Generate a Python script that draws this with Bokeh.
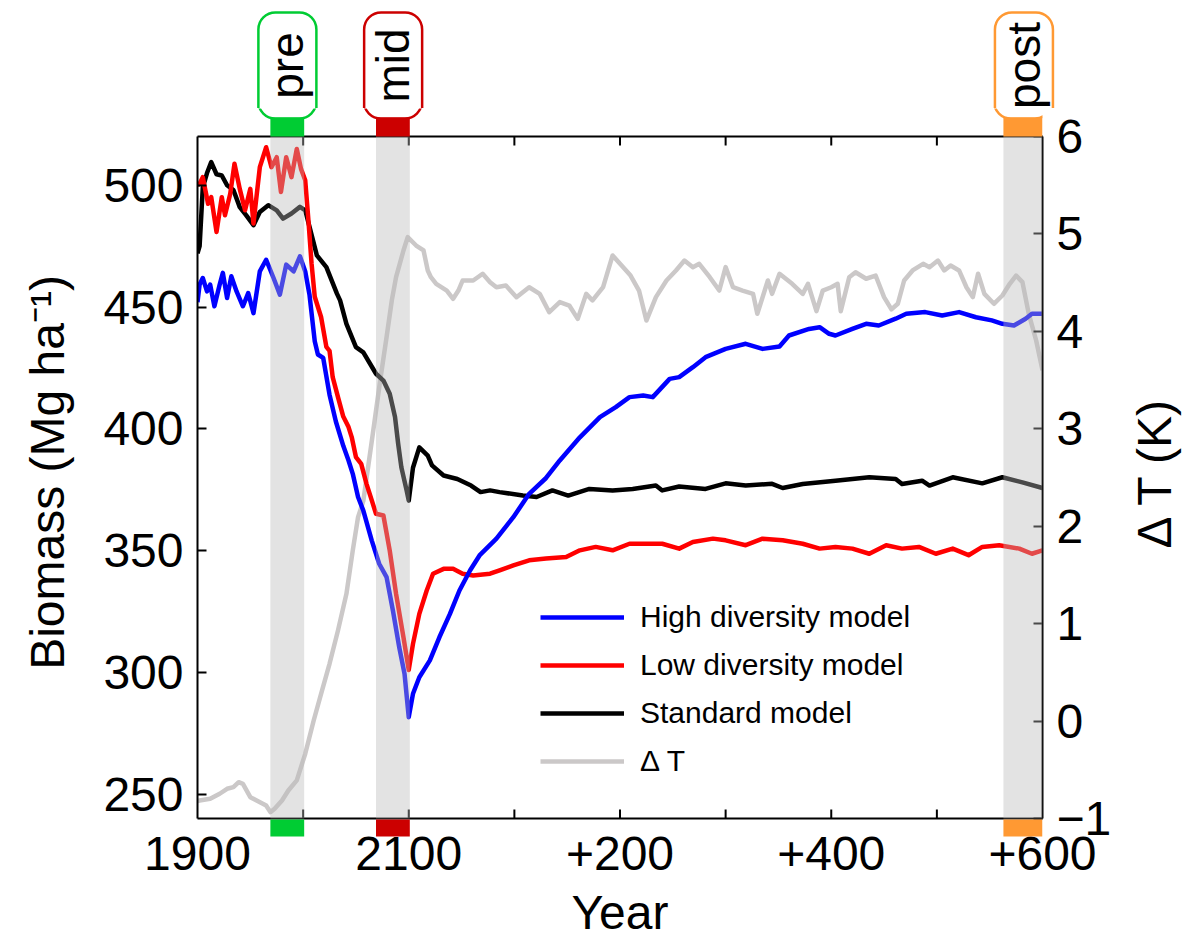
import math
from bokeh.plotting import figure
from bokeh.layouts import column, row
from bokeh.models import (Range1d, LinearAxis, FixedTicker, BoxAnnotation, Legend, LegendItem)
from bokeh.core.properties import value
from bokeh.embed import file_html
from bokeh.resources import INLINE

FONT = "Liberation Sans"

# ---------------- data ----------------
std_years = [1900, 1902, 1905, 1909, 1913, 1918, 1923, 1928, 1934, 1940, 1946, 1953, 1959,
             1967, 1975, 1981, 1989, 1997, 2002, 2006, 2013, 2022, 2032, 2035, 2041, 2050,
             2057, 2069, 2076, 2082, 2087, 2090, 2093, 2098, 2100, 2104, 2110, 2118, 2122,
             2133, 2146, 2159, 2168, 2177, 2186, 2208, 2221, 2236, 2251, 2271, 2293, 2312,
             2334, 2340, 2356, 2381, 2400, 2419, 2444, 2454, 2473, 2504, 2536, 2561, 2567,
             2586, 2593, 2615, 2643, 2662, 2681, 2700]
std_vals = [472, 475, 499, 505, 509.5, 504.5, 504, 500, 498, 491, 487.7, 483.6, 489,
            491.8, 489.7, 486.3, 488.4, 491.1, 489.7, 483, 471.2, 466.4, 455.5, 452.7, 443.1, 433.5,
            431.4, 422.6, 419.8, 414.4, 404.8, 393.8, 384.2, 374.7, 370.5, 384, 392.4, 389, 385,
            380.8, 379.4, 376.7, 374, 374.7, 374, 372.6, 372, 374.7, 372.6, 375.3, 374.7, 375.3,
            376.7, 374.7, 376.3, 375.3, 377.6, 376.7, 377.4, 375.7, 377.3, 378.7, 380.1, 379.4, 377.3,
            378.7, 376.7, 380.1, 377.6, 380.1, 378, 375.7]

low_years = [1900, 1902, 1905, 1910, 1913, 1918, 1923, 1926, 1931, 1935, 1940, 1945, 1950,
             1953, 1959, 1965, 1970, 1975, 1979, 1984, 1989, 1994, 1998, 2002, 2005, 2008,
             2011, 2017, 2022, 2025, 2028, 2033, 2038, 2043, 2046, 2050, 2055, 2060, 2065,
             2069, 2076, 2082, 2088, 2095, 2100, 2104, 2110, 2117, 2123, 2133, 2142, 2151,
             2161, 2170, 2177, 2186, 2199, 2214, 2230, 2249, 2262, 2277, 2293, 2309, 2325,
             2340, 2356, 2369, 2388, 2400, 2419, 2435, 2454, 2473, 2489, 2504, 2520, 2536,
             2552, 2567, 2583, 2599, 2615, 2630, 2643, 2659, 2678, 2690, 2700]
low_vals = [500, 500.6, 503.3, 492.4, 495.1, 480.8, 495.1, 487.7, 496.5, 508.8, 498.5, 489.7, 498.5,
            484.3, 507.4, 515.6, 507.4, 511.5, 497.2, 511.5, 503.3, 514.9, 506.7, 502, 485.6, 467.8,
            454.2, 445.9, 433.6, 432, 421.2, 413, 405, 400.7, 396.6, 388.4, 385.6, 377.4, 370.6,
            365.1, 364.4, 350, 332.2, 314.4, 301, 311.7, 324, 333.6, 340.5, 342.5, 342.5, 340.5,
            339.8, 340.2, 340.5, 341.9, 343.9, 346, 346.7, 347.4, 350.1, 351.5, 350.1, 352.8, 352.8,
            352.8, 350.8, 353.5, 354.9, 354.2, 352.2, 354.9, 354.2, 352.8, 350.8, 351.5, 350.8, 348.7,
            352.2, 350.8, 351.5, 348.7, 350.8, 348.1, 351.5, 352.2, 350.8, 348.7, 350.1]

high_years = [1900, 1902, 1905, 1909, 1912, 1916, 1921, 1924, 1928, 1932, 1937, 1943, 1948,
              1953, 1959, 1965, 1972, 1978, 1984, 1991, 1997, 2002, 2006, 2011, 2014, 2019,
              2025, 2031, 2038, 2043, 2047, 2052, 2057, 2065, 2072, 2079, 2085, 2091, 2096,
              2100, 2104, 2110, 2120, 2129, 2139, 2148, 2158, 2167, 2183, 2199, 2214, 2230,
              2243, 2262, 2281, 2296, 2309, 2322, 2331, 2347, 2356, 2369, 2381, 2400, 2419,
              2435, 2451, 2460, 2479, 2489, 2498, 2504, 2520, 2533, 2545, 2561, 2571, 2589,
              2605, 2621, 2637, 2652, 2662, 2673, 2684, 2690, 2700]
high_vals = [452, 459.2, 461.9, 456.4, 459.2, 450.3, 459.2, 464, 453.7, 462.6, 456.4, 450.3, 455.7,
             447.5, 464.6, 469.4, 461.9, 455.1, 467.4, 464.6, 470.8, 464.6, 455.1, 435.9, 430.5, 429.1,
             414, 403, 393, 387, 381.5, 372, 366.4, 354.1, 344.6, 339.1, 325.4, 310.3, 299.4,
             281.6, 291.2, 298, 304.9, 314.4, 324, 333.6, 341.8, 348, 354.9, 363.7, 373.3, 379.8,
             387, 396.5, 404.8, 408.9, 413, 413.7, 413, 420.5, 421.2, 425.3, 429.4, 432.8, 434.9,
             432.8, 433.8, 438.3, 441, 441.7, 439, 438.3, 441, 443.1, 442.4, 445.2, 447.2, 447.9,
             446.5, 447.9, 445.8, 444.5, 443.1, 442.4, 445.2, 447.2, 447.2]

dT_years = [1900, 1902, 1912, 1921, 1928, 1934, 1939, 1943, 1950, 1956, 1965, 1969, 1973,
            1980, 1986, 1994, 2002, 2010, 2017, 2025, 2033, 2041, 2047, 2052, 2057, 2066,
            2073, 2079, 2084, 2088, 2095, 2099, 2107, 2114, 2118, 2121, 2126, 2136, 2142, 2147,
            2151, 2161, 2170, 2177, 2183, 2192, 2202, 2214, 2224, 2233, 2243, 2252, 2260,
            2268, 2274, 2284, 2293, 2303, 2310, 2318, 2325, 2334, 2344, 2353, 2361, 2369,
            2375, 2385, 2394, 2400, 2407, 2416, 2426, 2430, 2440, 2444, 2451, 2463, 2473,
            2478, 2486, 2492, 2500, 2506, 2509, 2517, 2523, 2533, 2542, 2550, 2557, 2563,
            2569, 2577, 2587, 2593, 2601, 2607, 2613, 2621, 2628, 2634, 2639, 2645, 2654,
            2662, 2669, 2675, 2681, 2687, 2694, 2700]
dT_vals = [-0.82, -0.815, -0.798, -0.746, -0.695, -0.678, -0.627, -0.644, -0.781, -0.815, -0.866, -0.935, -0.9,
           -0.815, -0.712, -0.609, -0.336, 0.006, 0.28, 0.588, 0.93, 1.306, 1.751, 2.093, 2.26, 2.95,
           3.5, 3.94, 4.32, 4.556, 4.83, 4.967, 4.881, 4.83, 4.625, 4.556, 4.488, 4.419, 4.334, 4.419,
           4.522, 4.522, 4.591, 4.505, 4.453, 4.47, 4.351, 4.453, 4.385, 4.197, 4.3, 4.265, 4.128,
           4.385, 4.317, 4.453, 4.779, 4.659, 4.573, 4.419, 4.111, 4.351, 4.522, 4.625, 4.727, 4.659,
           4.693, 4.556, 4.419, 4.659, 4.453, 4.419, 4.385, 4.18, 4.522, 4.385, 4.591, 4.488, 4.385,
           4.488, 4.207, 4.419, 4.453, 4.488, 4.207, 4.556, 4.607, 4.54, 4.573, 4.351, 4.225, 4.283,
           4.522, 4.625, 4.693, 4.659, 4.727, 4.625, 4.676, 4.625, 4.453, 4.351, 4.591, 4.385, 4.283,
           4.368, 4.488, 4.573, 4.505, 4.18, 3.906, 3.6]

x_label_ticks = [1900, 2100, 2300, 2500, 2700]
x_tick_labels = ["1900", "2100", "+200", "+400", "+600"]
x_all_ticks = [2000, 2100, 2200, 2300, 2400, 2500, 2600]
left_ticks = [250, 300, 350, 400, 450, 500]
right_ticks = [-1, 0, 1, 2, 3, 4, 5, 6]

period_names = ["pre", "mid", "post"]
period_start = [1969, 2069, 2663]
period_end = [2001, 2101, 2700]
period_colors = ["#00cc33", "#cc0000", "#ff9933"]

series_names = ["High diversity model", "Low diversity model", "Standard model", "Δ T"]

# ---------------- geometry (pixels) ----------------
X0, X1 = 1900, 2700
B_LO, B_HI = 240, 520          # biomass axis extent (box)
T_LO, T_HI = -1, 6             # delta T axis extent (box)
BOX_LEFT_PX, BOX_RIGHT_PX = 197, 1043
BOX_TOP_PX, BOX_BOT_PX = 136, 818
SPLIT_PX = 108                 # page row where the tag strip ends and the plot canvas starts
FRAME_BOT_PX = 836
PX_PER_B = (BOX_BOT_PX - BOX_TOP_PX) / (B_HI - B_LO)
PX_PER_T = (BOX_BOT_PX - BOX_TOP_PX) / (T_HI - T_LO)
YRS_PER_PX = (X1 - X0) / (BOX_RIGHT_PX - BOX_LEFT_PX)


def b_at(px):
    return B_HI - (px - BOX_TOP_PX) / PX_PER_B


def t_at(px):
    return T_HI - (px - BOX_TOP_PX) / PX_PER_T


MAIN_W, MAIN_H = 1114, 941 - SPLIT_PX
RIGHT_W = 1182 - MAIN_W
TAG_TOP_PX, TAG_BOT_PX, TAG_TEXT_PX = 12, 118, 65
TAG_HALF_W_PX = 29

x_range = Range1d(X0, X1)


def clean(fig):
    fig.xgrid.visible = False
    fig.ygrid.visible = False
    fig.outline_line_color = None
    fig.background_fill_color = "white"
    fig.border_fill_color = "white"


def tag_box(fig, s, e, c, bottom, top):
    mid = (s + e) / 2
    half = TAG_HALF_W_PX * YRS_PER_PX
    fig.add_layout(BoxAnnotation(left=mid - half, right=mid + half, bottom=bottom, top=top,
                                 fill_color="white", fill_alpha=1,
                                 line_color=c, line_alpha=1, line_width=2.5,
                                 border_radius=17, level="underlay"))


# ---------------- top strip: period tags ----------------
TOP_RIGHT_PX = 1100
top = figure(width=1182, height=SPLIT_PX,
             x_range=Range1d(X0, X0 + (TOP_RIGHT_PX - BOX_LEFT_PX) * YRS_PER_PX),
             y_range=Range1d(b_at(SPLIT_PX), b_at(0)),
             output_backend="svg", toolbar_location=None, title=None,
             x_axis_location=None, y_axis_location=None,
             min_border_left=BOX_LEFT_PX, min_border_right=1182 - TOP_RIGHT_PX,
             min_border_top=0, min_border_bottom=0)
clean(top)
for name, s, e, c in zip(period_names, period_start, period_end, period_colors):
    tag_box(top, s, e, c, b_at(TAG_BOT_PX + 40), b_at(TAG_TOP_PX))
    top.text(x=[(s + e) / 2], y=[b_at(TAG_TEXT_PX)], text=[name], angle=math.pi / 2,
             text_align="center", text_baseline="middle",
             text_font=value(FONT), text_font_size=value("46px"), text_color="black")

# ---------------- main plot ----------------
p = figure(width=MAIN_W, height=MAIN_H, x_range=x_range,
           y_range=Range1d(b_at(FRAME_BOT_PX), b_at(SPLIT_PX)),
           output_backend="svg", toolbar_location=None, title=None,
           x_axis_location=None, y_axis_location=None,
           min_border_left=BOX_LEFT_PX, min_border_right=MAIN_W - BOX_RIGHT_PX, min_border_top=0,
           min_border_bottom=941 - FRAME_BOT_PX)
p.extra_y_ranges = {"T": Range1d(t_at(FRAME_BOT_PX), t_at(SPLIT_PX))}
clean(p)


def style_axis(ax):
    ax.major_label_text_font = FONT
    ax.major_label_text_font_size = "48px"
    ax.major_label_text_color = "black"
    ax.axis_label_text_font = FONT
    ax.axis_label_text_font_size = "48px"
    ax.axis_label_text_font_style = "normal"
    ax.axis_label_text_color = "black"
    ax.major_tick_in = 9
    ax.major_tick_out = 0
    ax.minor_tick_in = 0
    ax.minor_tick_out = 0
    ax.major_tick_line_width = 2
    ax.axis_line_width = 2
    ax.axis_line_color = "black"
    ax.major_tick_line_color = "black"


xb = LinearAxis(ticker=FixedTicker(ticks=x_label_ticks, minor_ticks=[]), axis_label="Year")
style_axis(xb)
xb.axis_line_color = None
xb.major_tick_line_color = None
xb.major_label_overrides = {t: l for t, l in zip(x_label_ticks, x_tick_labels)}
xb.major_label_standoff = 0
xb.axis_label_standoff = 13
p.add_layout(xb, "below")

yl = LinearAxis(ticker=FixedTicker(ticks=left_ticks, minor_ticks=[]), axis_label="Biomass (Mg ha⁻¹)",
                bounds=(B_LO, B_HI))
style_axis(yl)
yl.major_label_standoff = 14
yl.axis_label_standoff = 26
p.add_layout(yl, "left")

yr = LinearAxis(y_range_name="T", ticker=FixedTicker(ticks=right_ticks, minor_ticks=[]),
                bounds=(T_LO, T_HI))
style_axis(yr)
yr.major_label_overrides = {-1: "−1"}
yr.major_label_standoff = 14
p.add_layout(yr, "right")

# box edges (top/bottom) and inward x ticks at top and bottom
p.segment(x0=[X0, X0], y0=[B_LO, B_HI], x1=[X1, X1], y1=[B_LO, B_HI],
          line_color="black", line_width=2, line_cap="square")
tick_len = 9 / PX_PER_B
p.segment(x0=x_all_ticks, y0=[B_LO] * len(x_all_ticks), x1=x_all_ticks,
          y1=[B_LO + tick_len] * len(x_all_ticks), line_color="black", line_width=2)
p.segment(x0=x_all_ticks, y0=[B_HI] * len(x_all_ticks), x1=x_all_ticks,
          y1=[B_HI - tick_len] * len(x_all_ticks), line_color="black", line_width=2)

# lines
LW = 4.5
r_dT = p.line(dT_years, dT_vals, y_range_name="T", line_color="#cbc8c8", line_width=LW,
              line_join="round")
r_std = p.line(std_years, std_vals, line_color="black", line_width=LW, line_join="round")
r_low = p.line(low_years, low_vals, line_color="#ff0000", line_width=LW, line_join="round")
r_high = p.line(high_years, high_vals, line_color="#0000ff", line_width=LW, line_join="round")

# period bands, coloured bars, lower parts of the tags
for s, e, c in zip(period_start, period_end, period_colors):
    p.add_layout(BoxAnnotation(left=s, right=e, bottom=B_LO, top=B_HI, fill_color="#b9b9b9",
                               fill_alpha=0.4, line_alpha=0, level="overlay"))
    p.add_layout(BoxAnnotation(left=s, right=e, bottom=B_HI, top=b_at(TAG_BOT_PX) + 0.3,
                               fill_color=c, fill_alpha=1, line_alpha=0, level="overlay"))
    p.add_layout(BoxAnnotation(left=s, right=e, bottom=b_at(FRAME_BOT_PX) - 1, top=b_at(819),
                               fill_color=c, fill_alpha=1, line_alpha=0, level="overlay"))
    tag_box(p, s, e, c, b_at(TAG_BOT_PX), b_at(SPLIT_PX - 40))

legend = Legend(items=[LegendItem(label=series_names[0], renderers=[r_high]),
                       LegendItem(label=series_names[1], renderers=[r_low]),
                       LegendItem(label=series_names[2], renderers=[r_std]),
                       LegendItem(label=series_names[3], renderers=[r_dT])],
                location=(343, 55), orientation="vertical",
                label_text_font=FONT, label_text_font_size="30px", label_text_color="black",
                glyph_width=84, glyph_height=40, label_height=40, label_standoff=16,
                spacing=8, padding=0, margin=0,
                border_line_alpha=0, background_fill_alpha=0)
p.add_layout(legend)

# ---------------- right strip: Delta T axis title ----------------
rf = figure(width=RIGHT_W, height=MAIN_H, x_range=Range1d(0, 1), y_range=Range1d(0, 1),
            output_backend="svg", toolbar_location=None, title=None,
            x_axis_location=None, y_axis_location=None,
            min_border_left=RIGHT_W - 2, min_border_right=0, min_border_top=0,
            min_border_bottom=941 - FRAME_BOT_PX)
clean(rf)
ra = LinearAxis(ticker=FixedTicker(ticks=[], minor_ticks=[]), axis_label="Δ T (K)")
style_axis(ra)
ra.axis_line_color = None
ra.major_tick_in = 0
ra.major_label_standoff = 0
ra.axis_label_standoff = 0
rf.add_layout(ra, "left")

layout = column(top, row(p, rf))
open("out.html", "w").write(file_html(layout, INLINE))
